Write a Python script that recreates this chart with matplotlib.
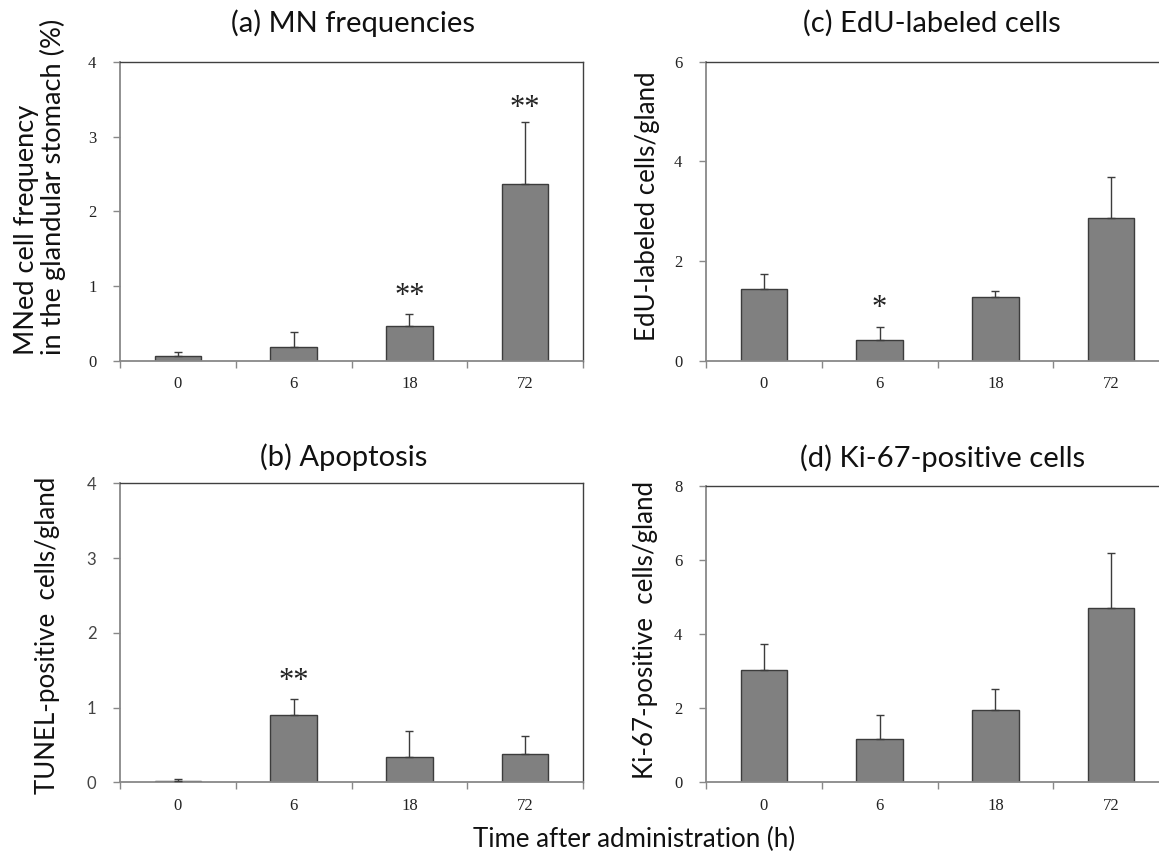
import matplotlib
matplotlib.use("Agg")
import matplotlib.pyplot as plt
import numpy as np

# ---- data ----
categories = ["0", "6", "18", "72"]

mn_mean = [0.067, 0.187, 0.468, 2.365]
mn_err = [0.058, 0.196, 0.160, 0.829]

apop_mean = [0.022, 0.90, 0.334, 0.379]
apop_err = [0.023, 0.21, 0.352, 0.241]

edu_mean = [1.45, 0.414, 1.29, 2.87]
edu_err = [0.29, 0.274, 0.11, 0.82]

ki_mean = [3.03, 1.17, 1.94, 4.69]
ki_err = [0.69, 0.64, 0.58, 1.49]

mn_stars = {2: ("**", 0.92), 3: ("**", 3.43)}
apop_stars = {1: ("**", 1.40)}
edu_stars = {1: ("*", 1.14)}
ki_stars = {}

W, H = 1159, 852
fig = plt.figure(figsize=(W / 100, H / 100), dpi=100)

SANS = ["Lato", "DejaVu Sans"]
SERIF = ["Liberation Serif", "DejaVu Serif"]
LABEL_FS = 18.6
TITLE_FS = 21


def px_axes(left, top, right, bottom):
    return fig.add_axes([left / W, 1 - bottom / H, (right - left) / W, (bottom - top) / H])


def panel(ax, means, errs, ymax, ystep, title, title_xy, ylabel, ylabel_xy, stars,
          sans_ticks=False, two_line=False):
    x = np.arange(len(categories))
    ax.bar(x, means, width=0.4, color="#808080", edgecolor="#3c3c3c", linewidth=1.0,
           zorder=2)
    ax.errorbar(x, means, yerr=[np.zeros(len(errs)), errs], fmt="none",
                ecolor="#3c3c3c", elinewidth=1.0, capsize=3, capthick=1.0, zorder=3)
    ax.set_xlim(-0.5, len(categories) - 0.5)
    ax.set_ylim(0, ymax)
    ticks = np.arange(0, ymax + 0.001, ystep)
    ax.set_yticks(ticks)
    ax.set_yticklabels([f"{v:g}" for v in ticks])
    ax.set_xticks(x)
    ax.set_xticklabels(categories, family=SERIF, fontsize=12, color="#222222")
    ax.set_xticks(np.arange(-0.5, len(categories)), minor=True)
    ax.tick_params(axis="x", which="major", length=0, pad=11)
    ax.tick_params(axis="x", which="minor", length=5, width=1, color="#888888",
                   direction="out")
    ax.tick_params(axis="y", which="major", length=5, width=1, color="#888888",
                   direction="out", pad=12)
    for lab in ax.get_yticklabels():
        if sans_ticks:
            lab.set_family(SANS)
            lab.set_color("#444444")
        else:
            lab.set_family(SERIF)
            lab.set_color("#222222")
        lab.set_fontsize(12)
    for s in ("left", "bottom"):
        ax.spines[s].set_color("#888888")
        ax.spines[s].set_linewidth(1.3)
    for s in ("top", "right"):
        ax.spines[s].set_color("#404040")
        ax.spines[s].set_linewidth(1.0)
    for i, (txt, yv) in stars.items():
        ax.annotate(txt, (i, yv), xytext=(0, -3), textcoords="offset points",
                    ha="center", va="center", family=SERIF, fontsize=22,
                    color="#222222")
    fig.text(title_xy[0] / W, 1 - title_xy[1] / H, title, ha="center", va="center",
             family=SANS, fontsize=TITLE_FS, color="#111111")
    if two_line:
        fig.text(ylabel_xy[0] / W, 1 - ylabel_xy[1] / H, ylabel, rotation=90,
                 ha="center", va="bottom", multialignment="left", family=SANS,
                 fontsize=19.6, color="#111111", linespacing=1.0)
    else:
        fig.text(ylabel_xy[0] / W, 1 - ylabel_xy[1] / H, ylabel, rotation=90,
                 ha="center", va="center", family=SANS, fontsize=LABEL_FS,
                 color="#111111")


ax_a = px_axes(120, 61.7, 583, 361)
ax_c = px_axes(706, 61.7, 1169, 361)
ax_b = px_axes(120, 483.3, 583, 782.3)
ax_d = px_axes(706, 485.7, 1169, 782.3)

panel(ax_a, mn_mean, mn_err, 4, 1, "(a) MN frequencies", (353, 23),
      "MNed cell frequency\nin the glandular stomach (%)", (40, 355), mn_stars,
      two_line=True)
panel(ax_c, edu_mean, edu_err, 6, 2, "(c) EdU-labeled cells", (932, 23),
      "EdU-labeled cells/gland", (647, 206), edu_stars)
panel(ax_b, apop_mean, apop_err, 4, 1, "(b) Apoptosis", (344, 457),
      "TUNEL-positive  cells/gland", (48, 635), apop_stars, sans_ticks=True)
panel(ax_d, ki_mean, ki_err, 8, 2, "(d) Ki-67-positive cells", (943, 458),
      "Ki-67-positive  cells/gland", (645, 630), ki_stars)

fig.text(634 / W, 1 - 839 / H, "Time after administration (h)", ha="center",
         va="center", family=SANS, fontsize=LABEL_FS, color="#111111")

fig.savefig("out.png", dpi=100)
